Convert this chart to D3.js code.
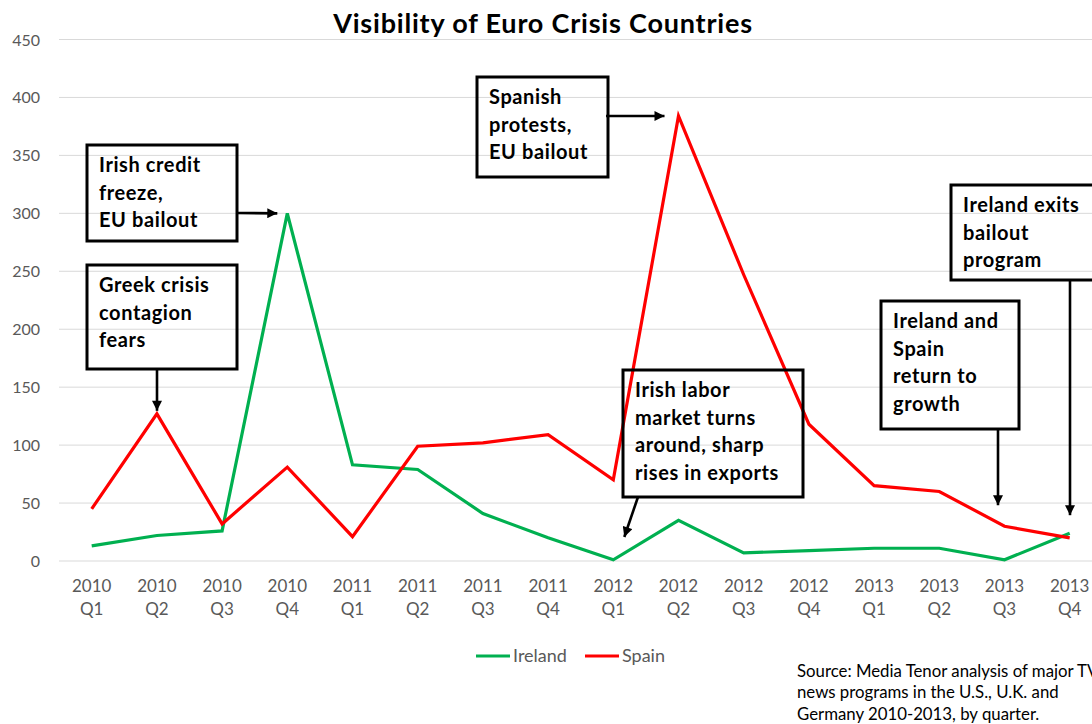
<!DOCTYPE html>
<html><head><meta charset="utf-8">
<script src="https://cdn.jsdelivr.net/npm/d3@7"></script>
<style>html,body{margin:0;padding:0;background:#fff;overflow:hidden}</style>
</head><body>
<svg id="chart" width="1092" height="724"></svg>
<script>
const categories = ["2010 Q1","2010 Q2","2010 Q3","2010 Q4","2011 Q1","2011 Q2","2011 Q3","2011 Q4",
  "2012 Q1","2012 Q2","2012 Q3","2012 Q4","2013 Q1","2013 Q2","2013 Q3","2013 Q4"];
const ireland = [13,22,26,300,83,79,41,20,1,35,7,9,11,11,1,24];
const spain   = [45,127,32,81,21,99,102,109,70,384,247,118,65,60,30,20];
const yTicks = [0,50,100,150,200,250,300,350,400,450];
const seriesNames = ["Ireland","Spain"];
const titleText = "Visibility of Euro Crisis Countries";
const sourceLines = ["Source: Media Tenor analysis of major TV","news programs in the U.S., U.K. and","Germany 2010-2013, by quarter."];
const annotationTexts = [
  ["Irish credit","freeze,","EU bailout"],
  ["Greek crisis","contagion","fears"],
  ["Spanish","protests,","EU bailout"],
  ["Irish labor","market turns","around, sharp","rises in exports"],
  ["Ireland and","Spain","return to","growth"],
  ["Ireland exits","bailout","program"]
];
// annotation anchors (category, value)
const annotationAnchors = [
  ["2010 Q4",300],["2010 Q2",127],["2012 Q2",384],["2012 Q1",0],["2013 Q3",30],["2013 Q4",24]
];

// layout (positions/styles)
const layout = {
  boxes: [
    {x:87,y:145,w:150,h:96, from:[237,213], tipOff:[-10,0]},
    {x:87,y:265,w:150,h:104, from:[157,369], tipOff:[0,-3], vertical:true},
    {x:477,y:77,w:131,h:100, from:[606,116], tipOff:[-14,0]},
    {x:623,y:370,w:180,h:127, from:[638,497], tipOff:[11,-24]},
    {x:881,y:301,w:138,h:128, from:[998,429], tipOff:[0,-21], vertical:true},
    {x:951,y:185,w:150,h:95, from:[1070,281], tipOff:[0,-18], vertical:true}
  ]
};

const svg = d3.select("#chart");
const x = d3.scalePoint().domain(categories).range([91.7, 1069.7]);
const y = d3.scaleLinear().domain([0,450]).range([561, 39.5]);
const font = "Lato, 'Open Sans', sans-serif";

// gridlines
svg.append("g").selectAll("line").data(yTicks).join("line")
  .attr("x1",59).attr("x2",1092)
  .attr("y1",d=>y(d)).attr("y2",d=>y(d))
  .attr("stroke","#d9d9d9").attr("stroke-width",1);

// y tick labels
svg.append("g").selectAll("text").data(yTicks).join("text")
  .attr("x",40).attr("y",d=>y(d)+6)
  .attr("text-anchor","end").attr("font-family",font).attr("font-size",16)
  .attr("fill","#595959").text(d=>d);

// x tick labels
const xl = svg.append("g").selectAll("g").data(categories).join("g")
  .attr("transform",d=>`translate(${x(d)},0)`);
xl.append("text").attr("y",592).attr("text-anchor","middle").attr("font-family",font)
  .attr("font-size",17).attr("fill","#595959").text(d=>d.split(" ")[0]);
xl.append("text").attr("y",615).attr("text-anchor","middle").attr("font-family",font)
  .attr("font-size",17).attr("fill","#595959").text(d=>d.split(" ")[1]);

// lines
const line = d3.line().x((d,i)=>x(categories[i])).y(d=>y(d));
const colors = ["#00B050","#FF0000"];
[ireland, spain].forEach((s,i)=>{
  svg.append("path").datum(s).attr("d",line).attr("fill","none")
    .attr("stroke",colors[i]).attr("stroke-width",3.2).attr("stroke-linejoin","miter");
});

// title
svg.append("text").attr("x",543).attr("y",33).attr("text-anchor","middle")
  .attr("font-family",font).attr("font-weight","bold").attr("font-size",27)
  .attr("letter-spacing",0.8).attr("fill","#000").text(titleText);

// arrow marker
svg.append("defs").append("marker").attr("id","arr")
  .attr("viewBox","0 0 10 10").attr("refX",10).attr("refY",5)
  .attr("markerWidth",11).attr("markerHeight",10).attr("markerUnits","userSpaceOnUse")
  .attr("orient","auto").append("path").attr("d","M0,0L10,5L0,10Z").attr("fill","#000");

// annotations
layout.boxes.forEach((b,i)=>{
  const g = svg.append("g");
  g.append("rect").attr("x",b.x).attr("y",b.y).attr("width",b.w).attr("height",b.h)
    .attr("fill","none").attr("stroke","#000").attr("stroke-width",3);
  annotationTexts[i].forEach((t,j)=>{
    g.append("text").attr("x",b.x+12).attr("y",b.y+27+j*27.5)
      .attr("font-family",font).attr("font-weight","bold").attr("font-size",20)
      .attr("letter-spacing",0.6).attr("fill","#000").text(t);
  });
  const a = annotationAnchors[i];
  const tx = b.vertical ? b.from[0] : x(a[0])+b.tipOff[0];
  const ty = y(a[1])+b.tipOff[1];
  g.append("path").attr("d",`M${b.from[0]},${b.from[1]}L${tx},${ty}`)
    .attr("fill","none").attr("stroke","#000").attr("stroke-width",2.6).attr("marker-end","url(#arr)");
});

// legend
const lg = svg.append("g");
const legX = [476, 585];
seriesNames.forEach((n,i)=>{
  lg.append("line").attr("x1",legX[i]).attr("x2",legX[i]+34).attr("y1",656).attr("y2",656)
    .attr("stroke",colors[i]).attr("stroke-width",3.2);
  lg.append("text").attr("x",legX[i]+37).attr("y",662).attr("font-family",font)
    .attr("font-size",18).attr("fill","#595959").text(n);
});

// source
sourceLines.forEach((t,j)=>{
  svg.append("text").attr("x",797).attr("y",677+j*21.3).attr("font-family",font)
    .attr("font-size",16.8).attr("fill","#000").text(t);
});
</script>
</body></html>
